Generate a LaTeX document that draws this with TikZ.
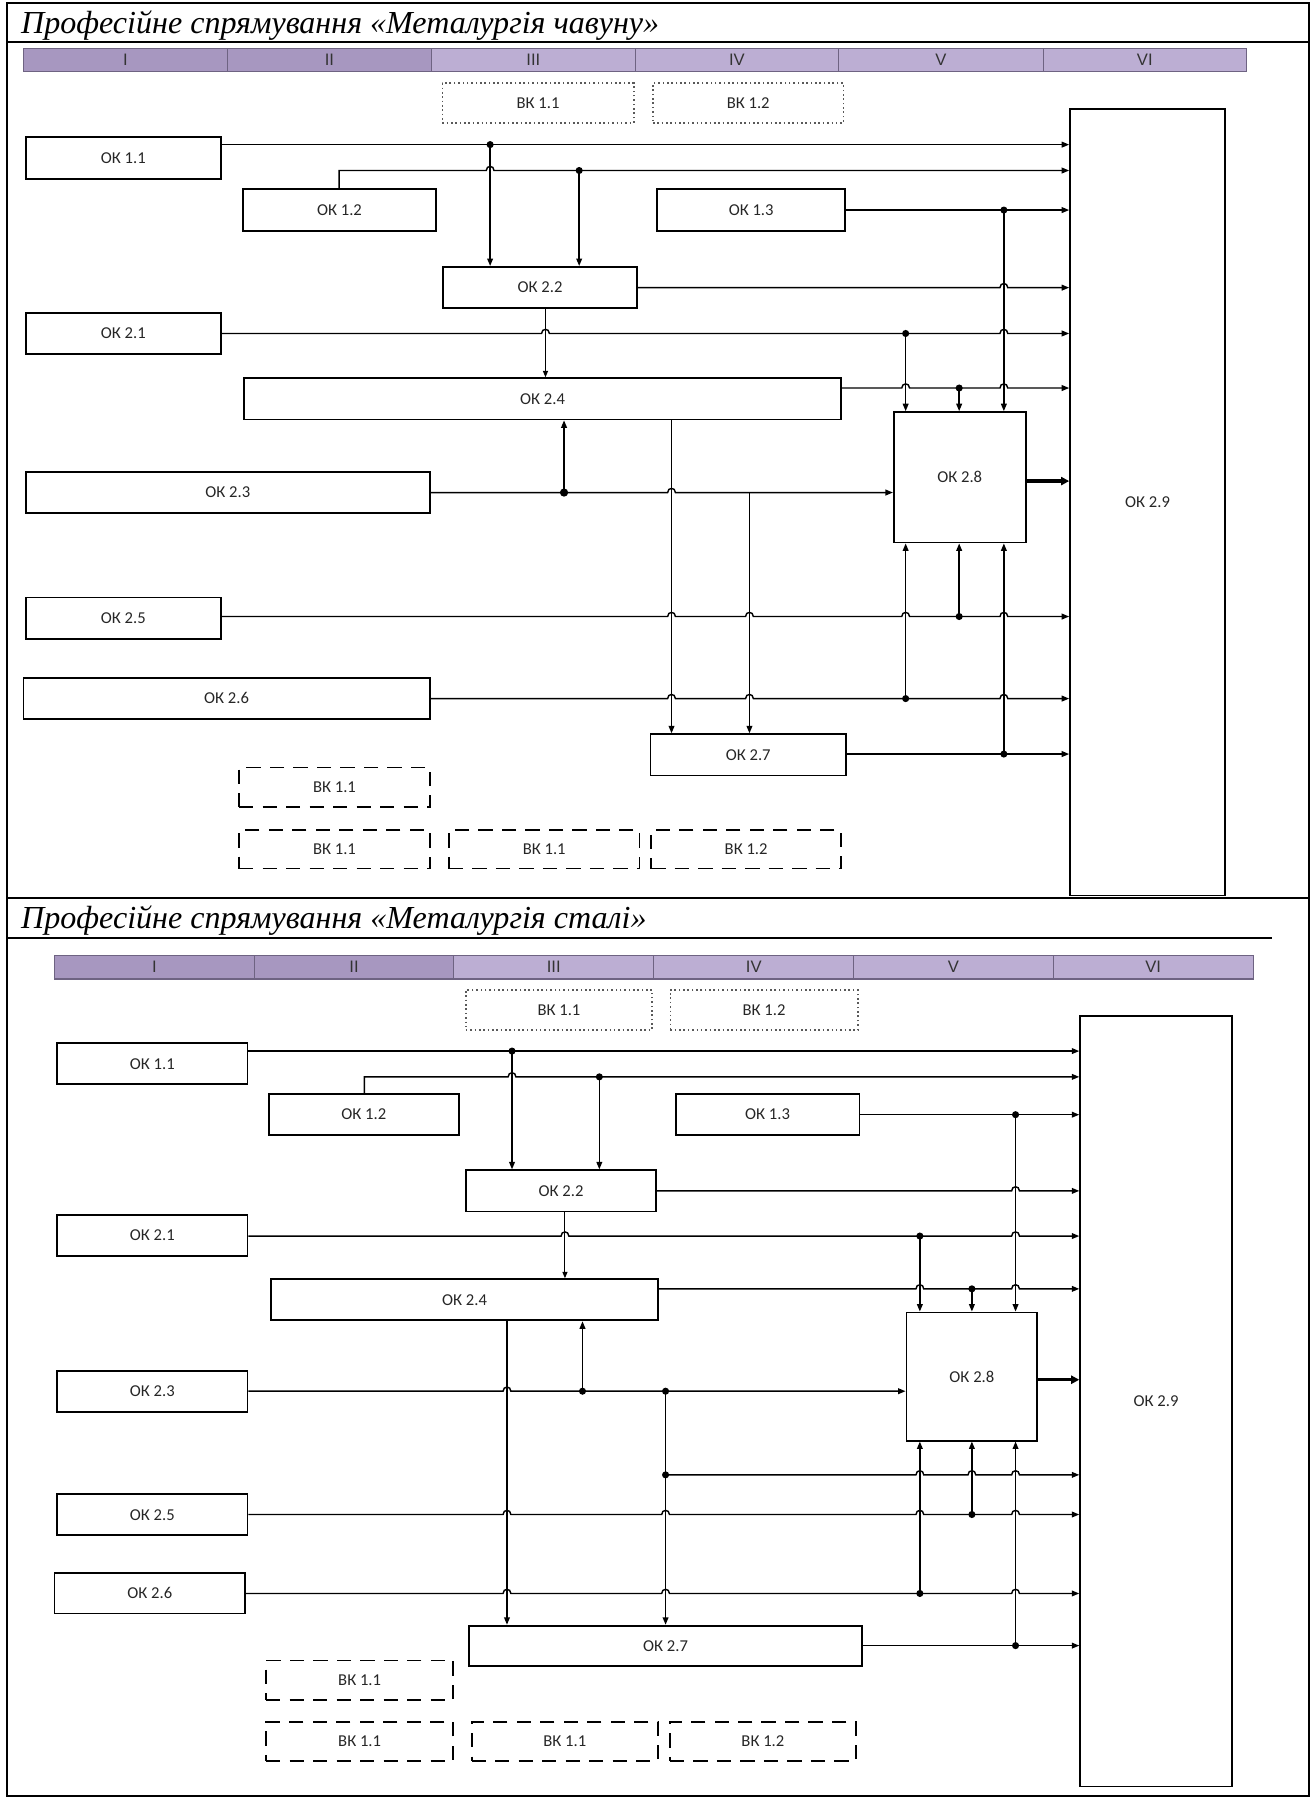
\documentclass[tikz,border=0pt]{standalone}
\usepackage{graphicx}
\usepackage{fontspec}
\setmainfont{Liberation Serif}
\newfontfamily\labfont{Carlito}
\newfontfamily\numfont{Liberation Sans}
\usetikzlibrary{arrows.meta}
\definecolor{bardark}{HTML}{A797C0}
\definecolor{barlight}{HTML}{BCAED3}
\definecolor{barline}{HTML}{6E6382}
\newcommand{\hp}[2]{\foreach \h in {#2}{ -- ({\h-3.4},#1) .. controls ({\h-3.4},{#1-4.8}) and ({\h+3.4},{#1-4.8}) .. ({\h+3.4},#1)}}
\begin{document}
\begin{tikzpicture}[x=1pt,y=-1pt,
  lab/.style={font=\labfont\fontsize{14.5}{16}\selectfont,text=black!85},
  box/.style={lab,draw,line width=1.6pt,inner sep=0pt},
  dotbox/.style={lab,draw=black!65,line width=1.4pt,dash pattern=on 1.4pt off 2.4pt,inner sep=0pt},
  dashbox/.style={lab,draw,line width=1.6pt,dash pattern=on 12.5pt off 8pt,inner sep=0pt},
  conn/.style={line width=1.25pt},
  arr/.style={conn,-{Triangle[length=6.5pt,width=5pt]}},
  thinarr/.style={line width=0.9pt,-{Triangle[length=5.5pt,width=4.4pt]}},
  bigarr/.style={line width=2.8pt,-{Triangle[length=7pt,width=7pt]}},
  tblline/.style={line width=1.8pt},
  cellA/.style={draw=barline,line width=0.9pt,fill=bardark,inner sep=0pt,font=\numfont\fontsize{14.5}{16}\selectfont,text=black!80},
  cellB/.style={cellA,fill=barlight}
]
\useasboundingbox (0,0) rectangle (1148.3,1569);
% ---------- table frame ----------
\draw[tblline] (5.9,2.5) rectangle (1142.5,1567.5);
\draw[tblline] (5.9,37) -- (1142.5,37);
\draw[tblline] (5.9,784) -- (1142.5,784);
\draw[tblline] (5.9,818.3) -- (1110,818.3);
\node[anchor=base west,inner sep=0pt] (title1) at (18.3,29) {\resizebox{556.7pt}{!}{\fontsize{27}{30}\selectfont\itshape Професійне спрямування «Металургія чавуну»}};
\node[anchor=base west,inner sep=0pt] (title2) at (18.3,810.3) {\resizebox{545.7pt}{!}{\fontsize{27}{30}\selectfont\itshape Професійне спрямування «Металургія сталі»}};

% ================= TOP DIAGRAM =================
\node[cellA,minimum width=178pt,minimum height=20.6pt] (tc1) at (109.5,52.3) {I};
\node[cellA,minimum width=178pt,minimum height=20.6pt] (tc2) at (287.5,52.3) {II};
\node[cellB,minimum width=177.9pt,minimum height=20.6pt] (tc3) at (465.45,52.3) {III};
\node[cellB,minimum width=177.3pt,minimum height=20.6pt] (tc4) at (643.05,52.3) {IV};
\node[cellB,minimum width=178.7pt,minimum height=20.6pt] (tc5) at (821.05,52.3) {V};
\node[cellB,minimum width=177.2pt,minimum height=20.6pt] (tc6) at (999,52.3) {VI};

\node[dotbox,minimum width=167pt,minimum height=34.6pt] (vk11) at (469.5,89.9) {ВК 1.1};
\node[dotbox,minimum width=166.2pt,minimum height=34.6pt] (vk12) at (652.9,89.9) {ВК 1.2};

\node[box,minimum width=169.9pt,minimum height=36.6pt] (ok11) at (107.65,138) {ОК 1.1};
\node[box,minimum width=169.1pt,minimum height=36.6pt] (ok12) at (296.25,183.1) {ОК 1.2};
\node[box,minimum width=164pt,minimum height=36.6pt] (ok13) at (655.5,183.1) {ОК 1.3};
\node[box,minimum width=169.2pt,minimum height=36.1pt] (ok22) at (471.3,250.95) {ОК 2.2};
\node[box,minimum width=169.9pt,minimum height=36pt] (ok21) at (107.65,291) {ОК 2.1};
\node[box,minimum width=520.8pt,minimum height=36pt] (ok24) at (473.5,348) {ОК 2.4};
\node[box,minimum width=115pt,minimum height=113.8pt] (ok28) at (837.5,416.5) {ОК 2.8};
\node[box,minimum width=352.3pt,minimum height=36.1pt] (ok23) at (198.85,429.75) {ОК 2.3};
\node[box,minimum width=169.9pt,minimum height=36.1pt] (ok25) at (107.65,539.45) {ОК 2.5};
\node[box,minimum width=354.5pt,minimum height=35.5pt] (ok26) at (197.75,609.35) {ОК 2.6};
\node[box,minimum width=170.7pt,minimum height=36pt] (ok27) at (652.95,658.7) {ОК 2.7};
\node[box,minimum width=135.2pt,minimum height=686.2pt] (ok29) at (1001.4,438.3) {ОК 2.9};

\node[dashbox,minimum width=166.3pt,minimum height=34.6pt] (td1) at (291.85,687) {ВК 1.1};
\node[dashbox,minimum width=166.3pt,minimum height=33.6pt] (td2) at (291.85,741.1) {ВК 1.1};
\node[dashbox,minimum width=166.2pt,minimum height=33.6pt] (td3) at (474.9,741.1) {ВК 1.1};
\node[dashbox,minimum width=165.6pt,minimum height=33.6pt] (td4) at (651.1,741.1) {ВК 1.2};

\coordinate (tA) at (427.7,126.2);
\coordinate (tB) at (505.4,148.8);
\coordinate (tK) at (295.9,148.8);
\coordinate (tF1) at (876,183.3);
\coordinate (tD1) at (790.3,291);
\coordinate (tE1) at (837,338.6);
\coordinate (tG) at (492.2,429.8);
\coordinate (tI) at (654,429.8);
\coordinate (tE2) at (837,538);
\coordinate (tD2) at (790.3,609.6);
\coordinate (tF2) at (876,658);

\draw[arr] (ok11.east |- tA) -- (ok29.west |- tA);
\draw[arr] (tA) -- (tA |- ok22.north);
\draw[arr] (ok12.north -| tK) -- (tK) \hp{148.8}{427.7} -- (ok29.west |- tK);
\draw[arr] (tB) -- (tB |- ok22.north);
\draw[arr] (ok13.east |- tF1) -- (ok29.west |- tF1);
\draw[arr] (tF1) -- (tF1 |- ok28.north);
\draw[arr] (ok22.east |- 0,251) \hp{251}{876} -- (ok29.west |- 0,251);
\draw[thinarr] (ok22.south -| 476,0) -- (ok24.north -| 476,0);
\draw[arr] (ok21.east |- tD1) \hp{291}{476,876} -- (ok29.west |- tD1);
\draw[arr] (tD1) -- (tD1 |- ok28.north);
\draw[arr] (ok24.east |- tE1) \hp{338.6}{790.3,876} -- (ok29.west |- tE1);
\draw[arr] (tE1) -- (tE1 |- ok28.north);
\draw[arr] (ok23.east |- tG) \hp{429.8}{586} -- (ok28.west |- tG);
\draw[arr] (tG) -- (tG |- ok24.south);
\draw[arr] (tI) -- (tI |- ok27.north);
\draw[arr] (ok24.south -| 586,0) -- (ok27.north -| 586,0);
\draw[bigarr] (ok28.east |- 0,419.8) -- (ok29.west |- 0,419.8);
\draw[arr] (ok25.east |- tE2) \hp{538}{586,654,790.3,876} -- (ok29.west |- tE2);
\draw[arr] (tE2) -- (tE2 |- ok28.south);
\draw[arr] (ok26.east |- tD2) \hp{609.6}{586,654,876} -- (ok29.west |- tD2);
\draw[arr] (tD2) -- (tD2 |- ok28.south);
\draw[arr] (ok27.east |- tF2) -- (ok29.west |- tF2);
\draw[arr] (tF2) -- (tF2 |- ok28.south);
\foreach \p in {tA,tB,tF1,tD1,tE1,tE2,tD2,tF2} \fill (\p) circle[radius=3.1pt];
\fill (tG) circle[radius=3.6pt];

% ================= BOTTOM DIAGRAM =================
\node[cellA,minimum width=174.4pt,minimum height=20.5pt] (bc1) at (134.8,844.05) {I};
\node[cellA,minimum width=174pt,minimum height=20.5pt] (bc2) at (309,844.05) {II};
\node[cellB,minimum width=174.5pt,minimum height=20.5pt] (bc3) at (483.25,844.05) {III};
\node[cellB,minimum width=174.5pt,minimum height=20.5pt] (bc4) at (657.75,844.05) {IV};
\node[cellB,minimum width=174pt,minimum height=20.5pt] (bc5) at (832,844.05) {V};
\node[cellB,minimum width=174.5pt,minimum height=20.5pt] (bc6) at (1006.25,844.05) {VI};

\node[dotbox,minimum width=162.5pt,minimum height=35pt] (vk11b) at (487.75,881.3) {ВК 1.1};
\node[dotbox,minimum width=163.5pt,minimum height=35pt] (vk12b) at (666.75,881.3) {ВК 1.2};

\node[box,minimum width=166.2pt,minimum height=36pt] (ok11b) at (132.9,928.2) {ОК 1.1};
\node[box,minimum width=166.2pt,minimum height=35.5pt] (ok12b) at (317.5,972.45) {ОК 1.2};
\node[box,minimum width=160.4pt,minimum height=35.5pt] (ok13b) at (669.8,972.45) {ОК 1.3};
\node[box,minimum width=166.2pt,minimum height=36pt] (ok22b) at (489.6,1039.2) {ОК 2.2};
\node[box,minimum width=166.2pt,minimum height=36pt] (ok21b) at (132.9,1078.2) {ОК 2.1};
\node[box,minimum width=337.6pt,minimum height=36pt] (ok24b) at (405.4,1134.2) {ОК 2.4};
\node[box,minimum width=114.2pt,minimum height=111.8pt] (ok28b) at (848.1,1201.2) {ОК 2.8};
\node[box,minimum width=166.2pt,minimum height=35.5pt] (ok23b) at (132.9,1214.35) {ОК 2.3};
\node[box,minimum width=166.2pt,minimum height=35.6pt] (ok25b) at (132.9,1321.8) {ОК 2.5};
\node[box,minimum width=166.3pt,minimum height=35.4pt] (ok26b) at (130.75,1390.3) {ОК 2.6};
\node[box,minimum width=342.8pt,minimum height=35.4pt] (ok27b) at (580.8,1436.3) {ОК 2.7};
\node[box,minimum width=132.4pt,minimum height=672.2pt] (ok29b) at (1008.8,1222.9) {ОК 2.9};

\node[dashbox,minimum width=163.3pt,minimum height=34.5pt] (bd1) at (313.85,1466.25) {ВК 1.1};
\node[dashbox,minimum width=163.3pt,minimum height=34pt] (bd2) at (313.85,1519.5) {ВК 1.1};
\node[dashbox,minimum width=162.6pt,minimum height=34pt] (bd3) at (492.9,1519.5) {ВК 1.1};
\node[dashbox,minimum width=162.5pt,minimum height=34pt] (bd4) at (665.75,1519.5) {ВК 1.2};

\coordinate (bA) at (446.8,917.2);
\coordinate (bB) at (523,939.7);
\coordinate (bK) at (317.9,939.7);
\coordinate (bF1) at (886.2,972.7);
\coordinate (bD1) at (802.7,1078.6);
\coordinate (bE1) at (848.1,1124.7);
\coordinate (bG) at (508.3,1214);
\coordinate (bI) at (580.8,1214);
\coordinate (bX) at (580.8,1287);
\coordinate (bE2) at (848.1,1321.6);
\coordinate (bD2) at (802.7,1390.5);
\coordinate (bF2) at (886.2,1436);

\draw[arr] (ok11b.east |- bA) -- (ok29b.west |- bA);
\draw[arr] (bA) -- (bA |- ok22b.north);
\draw[arr] (ok12b.north -| bK) -- (bK) \hp{939.7}{446.8} -- (ok29b.west |- bK);
\draw[arr] (bB) -- (bB |- ok22b.north);
\draw[arr] (ok13b.east |- bF1) -- (ok29b.west |- bF1);
\draw[arr] (bF1) -- (bF1 |- ok28b.north);
\draw[arr] (ok22b.east |- 0,1039.2) \hp{1039.2}{886.2} -- (ok29b.west |- 0,1039.2);
\draw[thinarr] (ok22b.south -| 493,0) -- (ok24b.north -| 493,0);
\draw[arr] (ok21b.east |- bD1) \hp{1078.6}{493,886.2} -- (ok29b.west |- bD1);
\draw[arr] (bD1) -- (bD1 |- ok28b.north);
\draw[arr] (ok24b.east |- bE1) \hp{1124.7}{802.7,886.2} -- (ok29b.west |- bE1);
\draw[arr] (bE1) -- (bE1 |- ok28b.north);
\draw[arr] (ok23b.east |- bG) \hp{1214}{442.4} -- (ok28b.west |- bG);
\draw[arr] (bG) -- (bG |- ok24b.south);
\draw[arr] (bI) -- (bI |- ok27b.north);
\draw[arr] (ok24b.south -| 442.4,0) -- (ok27b.north -| 442.4,0);
\draw[bigarr] (ok28b.east |- 0,1204) -- (ok29b.west |- 0,1204);
\draw[arr] (bX) \hp{1287}{802.7,848.1,886.2} -- (ok29b.west |- bX);
\draw[arr] (ok25b.east |- bE2) \hp{1321.6}{442.4,580.8,802.7,886.2} -- (ok29b.west |- bE2);
\draw[arr] (bE2) -- (bE2 |- ok28b.south);
\draw[arr] (ok26b.east |- bD2) \hp{1390.5}{442.4,580.8,886.2} -- (ok29b.west |- bD2);
\draw[arr] (bD2) -- (bD2 |- ok28b.south);
\draw[arr] (ok27b.east |- bF2) -- (ok29b.west |- bF2);
\draw[arr] (bF2) -- (bF2 |- ok28b.south);
\foreach \p in {bA,bB,bF1,bD1,bE1,bG,bI,bX,bE2,bD2,bF2} \fill (\p) circle[radius=3.1pt];
\end{tikzpicture}
\end{document}
